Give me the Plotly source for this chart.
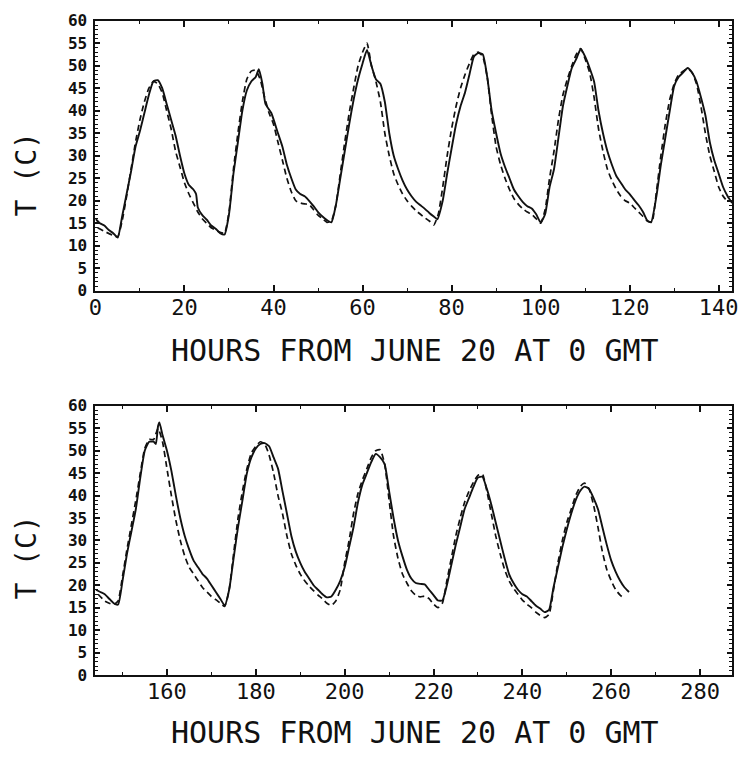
import plotly.graph_objects as go

# Hours from June 20 at 0 GMT, first six days
hours_a_obs = [0, 1, 2, 3, 4, 5, 6, 7, 8, 9, 10, 11, 12, 13, 14, 15, 16, 17, 18, 19, 20, 21, 22, 22.6, 23, 24, 25, 26, 27, 28, 29,
               30, 31, 32, 33, 34, 35, 36, 36.7, 37.5, 38.2, 39.5, 41, 42, 43, 44, 45, 46, 47, 48, 49, 50, 51, 52, 53,
               54, 55, 56, 57, 58, 59, 60, 61, 62, 63, 64, 65, 66, 67, 68, 69, 70, 71, 72, 73, 74, 75, 76, 76.8,
               78, 79, 80, 81, 82, 83, 84, 85, 86, 87, 88, 89, 90, 91, 92, 93, 94, 95, 96, 97, 98, 99, 100,
               101, 102, 103, 104, 105, 106, 107, 108, 109, 110, 111, 112, 113, 114, 115, 116, 117, 118, 119, 120, 121, 122, 123, 124, 124.8,
               126, 127, 128, 129, 130, 131, 132, 133, 134, 135, 136, 137, 138, 139, 140, 141, 142, 143]
temp_a_obs = [16.0, 15.0, 14.5, 13.5, 12.8, 11.8, 16.5, 21.5, 26.5, 32, 35.5, 39.5, 43.5, 46.5, 46.8, 45, 41.5, 38, 34.5, 30, 26, 23.5, 22.5, 21.5, 18.5, 16.8, 15.8, 14.5, 13.8, 12.8, 12.5,
              17, 26, 33, 40, 44.5, 46.5, 47.5, 49.2, 46, 41.5, 39.5, 35, 32, 28, 25, 22.5, 21.5, 21, 20, 18.8, 17.5, 16.5, 15.7, 15.2,
              19, 25, 31, 37, 42.5, 47, 50.5, 53.5, 50, 47, 46, 42, 35, 30, 27, 24.5, 22.5, 21, 19.8, 19, 18.2, 17.3, 16.5, 15.9,
              20, 26, 31.6, 37, 41, 44, 48, 52, 52.8, 52.5, 47.5, 40, 35, 30.5, 27.5, 25, 22.5, 21, 19.7, 18.8, 18.3, 17, 15.2,
              17, 23, 27, 34, 41, 45.5, 49.5, 51.5, 53.7, 52, 49.5, 46.5, 40, 35, 31, 28, 25.5, 24, 22.5, 21.5, 20.2, 19, 17.5, 15.5, 15.2,
              21, 28, 34, 40, 45.5, 47.5, 48.5, 49.5, 48.5, 46.5, 43, 39, 33, 29, 26, 23, 21, 19.5]

hours_a_mod = [0.5, 2, 4, 5, 6, 7, 8, 9, 10, 11, 12, 13, 14, 15, 16, 17, 18, 19, 20, 21, 22, 23, 24, 25, 26, 27, 28, 29,
               30, 31, 32, 33, 34, 35, 36, 37, 38, 39, 40, 41, 42, 43, 44, 45, 46, 47, 48, 49, 50, 51, 52, 53,
               54, 55, 56, 57, 58, 59, 60, 61, 62, 63, 64, 65, 66, 67, 68, 69, 70, 71, 72, 73, 74, 75, 76,
               77, 78, 79, 80, 81, 82, 83, 84, 85, 86, 87, 88, 89, 90, 91, 92, 93, 94, 95, 96, 97, 98, 99, 100,
               101, 102, 103, 104, 105, 106, 107, 108, 109, 110, 111, 112, 113, 114, 115, 116, 117, 118, 119, 120, 121, 122, 123, 124, 125,
               126, 127, 128, 129, 130, 131, 132, 133, 134, 135, 136, 137, 138, 139, 140, 141, 142]
temp_a_mod = [14, 13.2, 12.3, 12, 15.5, 21, 27, 33, 38, 42, 45, 46.5, 46, 44, 40, 36, 31, 27.5, 24, 21.5, 19.5, 17.5, 16, 15, 14, 13.5, 13, 12.8,
              17.5, 27, 35, 42, 47, 48.8, 49, 47, 43, 39.5, 37, 33, 29, 25, 22, 20, 19.5, 19.3, 19.2, 18, 16.8, 16, 15.2, 15.5,
              19, 26, 33, 39.5, 45, 50, 53, 55, 50, 46.5, 42, 35, 30, 26, 23.5, 21.5, 20, 18.8, 17.8, 17, 16.2, 15.5, 14.6,
              17, 23, 30, 36, 41, 45, 48, 50.5, 52.5, 53, 52, 47.5, 39, 32, 28, 25, 22.5, 20.5, 19.2, 18.2, 17.5, 17, 16, 15,
              18, 25, 31, 38, 43.5, 47, 50, 52.5, 53.8, 51.5, 48.5, 43, 36, 31, 27, 24.5, 22.5, 21, 20, 19.5, 18.5, 17.5, 16.5, 15.5, 15.3,
              22, 30, 37, 42.5, 46, 48, 48.8, 49.3, 48.5, 46, 41, 35, 30, 26.5, 23, 21, 19.8]

# Following six days
hours_b_obs = [144, 145, 146, 147, 148, 149, 150, 151, 152, 153, 154, 155, 156, 157, 157.5, 158, 158.3, 159, 160, 161, 162, 163, 164, 165, 166, 167, 168, 169, 170, 171, 172, 173,
               174, 175, 176, 177, 178, 179, 180, 181, 182, 183, 184, 185, 186, 187, 188, 189, 190, 191, 192, 193, 194, 195, 196, 197,
               198, 199, 200, 201, 202, 203, 204, 205, 206, 207, 208, 209, 210, 211, 212, 213, 214, 215, 216, 217, 218, 219, 220, 221, 222,
               223, 224, 225, 226, 227, 228, 229, 230, 231, 232, 233, 234, 235, 236, 237, 238, 239, 240, 241, 242, 243, 244, 245,
               246, 247, 248, 249, 250, 251, 252, 253, 254, 255, 256, 257, 258, 259, 260, 261, 262, 263, 264]
temp_b_obs = [19, 18.5, 18, 17, 16, 15.7, 21, 27, 32, 37, 44, 50, 52, 52, 51.5, 55.5, 56.3, 53.5, 50, 45.5, 40, 35, 31, 28, 25.5, 24, 22.5, 21.5, 20, 18.5, 17, 15.5,
              19, 26, 33, 39, 45, 48.5, 50.5, 51.5, 51.7, 51, 48.5, 46, 41, 36, 31, 27.5, 25, 23, 21.5, 20, 19, 18, 17.3, 17.5,
              19, 21, 24, 28.5, 33, 38.5, 42.5, 45, 47.5, 49.3, 48.5, 47, 41, 35, 30, 26.5, 23.5, 21.5, 20.5, 20.3, 20.2, 19, 17.8, 16.6, 16.6,
              20, 24.5, 29, 33, 37, 39.5, 42, 44, 44.2, 41.5, 38, 34, 30, 26, 22.5, 20.5, 19, 18, 17.5, 16.5, 15.5, 14.8, 14,
              14.5, 19.5, 24, 28.5, 32.5, 36, 39, 41, 42, 41.5, 39.5, 37, 33, 29, 25.5, 23, 21, 19.5, 18.5]

hours_b_mod = [144.5, 146, 147, 148, 149, 150, 151, 152, 153, 154, 155, 156, 157, 158, 159, 160, 161, 162, 163, 164, 165, 166, 167, 168, 169, 170, 171, 172, 173,
               174, 175, 176, 177, 178, 179, 180, 181, 182, 183, 184, 185, 186, 187, 188, 189, 190, 191, 192, 193, 194, 195, 196, 197,
               198, 199, 200, 201, 202, 203, 204, 205, 206, 207, 208, 209, 210, 211, 212, 213, 214, 215, 216, 217, 218, 219, 220, 221,
               222, 223, 224, 225, 226, 227, 228, 229, 230, 231, 232, 233, 234, 235, 236, 237, 238, 239, 240, 241, 242, 243, 244, 245,
               246, 247, 248, 249, 250, 251, 252, 253, 254, 255, 256, 257, 258, 259, 260, 261, 262, 263]
temp_b_mod = [18, 16.5, 16, 15.7, 16.5, 22, 28, 33.5, 39, 45, 50.5, 52.5, 52.5, 55, 52, 46, 40, 34.5, 30, 26.5, 24, 22.5, 21, 19.5, 18.5, 17.5, 16.8, 16, 15.3,
              19, 27, 35, 41, 46, 49.5, 51, 52, 51.5, 49, 45, 40, 36, 31, 27, 24.5, 22.5, 21, 19.8, 18.8, 17.8, 17, 16, 15.5,
              16.5, 19, 25, 30, 36, 40.5, 43.5, 46, 48.5, 50, 50.2, 47, 39, 31, 26, 22.5, 20.5, 18.8, 17.8, 17.4, 17.6, 17, 15.8, 15,
              16, 21, 26, 31, 35, 38.5, 41, 43, 44.5, 44.8, 41, 36, 31, 27, 23.5, 21, 19.3, 18, 16.7, 15.8, 15, 14, 13.3, 12.8,
              13.5, 19, 25, 30, 34, 37, 40, 42, 42.8, 41.5, 38, 33, 27.5, 23.5, 21, 19, 17.8, 17]

x_tick_a = [0, 20, 40, 60, 80, 100, 120, 140]
x_tick_b = [160, 180, 200, 220, 240, 260, 280]
y_ticks = [0, 5, 10, 15, 20, 25, 30, 35, 40, 45, 50, 55, 60]

x_title = "HOURS FROM JUNE 20 AT 0 GMT"
y_title = "T (C)"

W, H = 743, 762
INK = "#111111"
MONO = "DejaVu Sans Mono"

fig = go.Figure()

panels = [
    ("x", "y", hours_a_obs, temp_a_obs, hours_a_mod, temp_a_mod),
    ("x2", "y2", hours_b_obs, temp_b_obs, hours_b_mod, temp_b_mod),
]
for xa, ya, ho, to, hm, tm in panels:
    fig.add_trace(go.Scatter(x=hm, y=tm, xaxis=xa, yaxis=ya, mode="lines",
                             line=dict(color=INK, width=1.7, dash="6px,4px",
                                       shape="spline", smoothing=0.5),
                             showlegend=False, hoverinfo="skip"))
    fig.add_trace(go.Scatter(x=ho, y=to, xaxis=xa, yaxis=ya, mode="lines",
                             line=dict(color=INK, width=1.9, shape="spline", smoothing=0.5),
                             showlegend=False, hoverinfo="skip"))

def px_x(p):
    return p / W

def px_y(p):
    return 1 - p / H

x_dom = [px_x(90), px_x(738)]
common_x = dict(
    showline=True, linecolor=INK, linewidth=2, mirror="allticks",
    ticks="inside", ticklen=6, tickwidth=1.5, tickcolor=INK,
    minor=dict(dtick=10, ticks="inside", ticklen=3, tickwidth=1, tickcolor=INK),
    showgrid=False, zeroline=False, ticklabeloverflow="allow",
    ticklabelstandoff=-4,
    tickfont=dict(family=MONO, size=22, color=INK),
)
common_y = dict(
    showline=True, linecolor=INK, linewidth=2, mirror="allticks",
    ticks="inside", ticklen=5, tickwidth=1.5, tickcolor=INK,
    minor=dict(dtick=1, ticks="inside", ticklen=3, tickwidth=1, tickcolor=INK),
    showgrid=False, zeroline=False, range=[0, 60],
    tickvals=y_ticks, ticklabelstandoff=3,
    tickfont=dict(family=MONO, size=16, color=INK, weight="bold"),
)

fig.update_layout(
    width=W, height=H,
    margin=dict(l=0, r=0, t=0, b=0),
    paper_bgcolor="white", plot_bgcolor="white",
    xaxis=dict(common_x, domain=x_dom, range=[0, 143], tickvals=x_tick_a, anchor="y"),
    yaxis=dict(common_y, domain=[px_y(289), px_y(12)], anchor="x"),
    xaxis2=dict(common_x, domain=x_dom, range=[143.9, 287.2], tickvals=x_tick_b, anchor="y2"),
    yaxis2=dict(common_y, domain=[px_y(683), px_y(407)], anchor="x2"),
)

for yc in (350, 742):
    fig.add_annotation(text=x_title, xref="paper", yref="paper",
                       x=px_x(415), y=px_y(yc), showarrow=False,
                       xanchor="center", yanchor="middle",
                       font=dict(family=MONO, size=30, color=INK))
for yc in (170, 563):
    fig.add_annotation(text=y_title, xref="paper", yref="paper",
                       x=px_x(20), y=px_y(yc), showarrow=False, textangle=-90,
                       xanchor="center", yanchor="middle",
                       font=dict(family=MONO, size=28, color=INK))

fig.write_html("out.html")
